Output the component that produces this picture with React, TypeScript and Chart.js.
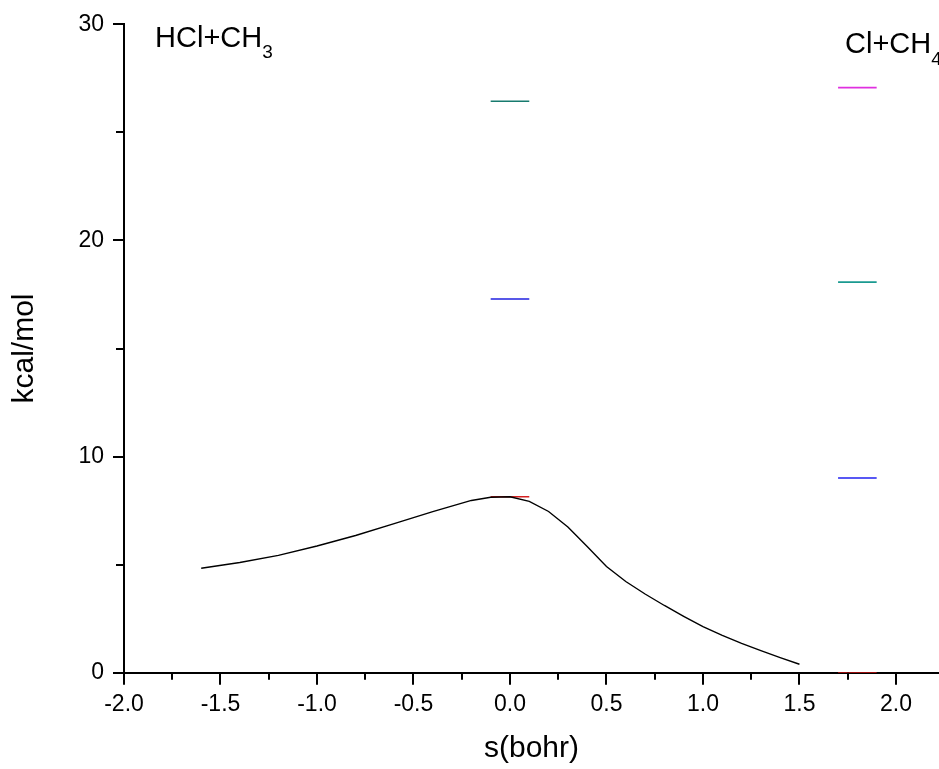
import React, { useEffect, useRef } from "react";
import { Chart, registerables } from "chart.js";

Chart.register(...registerables);

// Reaction path (minimum energy path) s (bohr) vs energy (kcal/mol)
const pathS = [-1.6, -1.4, -1.2, -1.0, -0.8, -0.6, -0.4, -0.2, -0.1, 0.0, 0.1, 0.2, 0.3, 0.4, 0.5, 0.6, 0.7, 0.8, 0.9, 1.0, 1.1, 1.2, 1.3, 1.4, 1.5];
const pathE = [4.83, 5.1, 5.43, 5.86, 6.35, 6.9, 7.45, 7.97, 8.12, 8.14, 7.93, 7.46, 6.74, 5.84, 4.91, 4.22, 3.64, 3.11, 2.61, 2.13, 1.73, 1.36, 1.02, 0.7, 0.39];

// Energy levels: [sStart, sEnd], energy, colour
const levelStart = [-0.1, -0.1, -0.1, 1.7, 1.7, 1.7, 1.7];
const levelEnd = [0.1, 0.1, 0.1, 1.9, 1.9, 1.9, 1.9];
const levelE = [26.44, 17.29, 8.14, 27.07, 18.07, 9.01, 0.0];
const levelColors = ["#177a6e", "#2020e0", "#d42020", "#e030e0", "#1a9a90", "#2020f0", "#cc1010"];

// Species labels (position in data coordinates)
const labelMain = ["HCl+CH", "Cl+CH"];
const labelSub = ["3", "4"];
const labelS = [-1.839, 1.736];
const labelE = [28.97, 28.66];

const xTicksMajor = 0.5;
const yTicksMajor = 10;

const FONT = "'Liberation Sans', Arial, Helvetica, sans-serif";

const tickPlugin = {
  id: "customTicks",
  afterDraw(chart: any) {
    const ctx = chart.ctx;
    const xs = chart.scales.x;
    const ys = chart.scales.y;
    const area = chart.chartArea;
    ctx.save();
    ctx.strokeStyle = "#000";
    ctx.lineWidth = 2;
    xs.ticks.forEach((t: any) => {
      const v = t.value;
      const major = Math.abs(v / xTicksMajor - Math.round(v / xTicksMajor)) < 1e-6;
      const px = Math.round(xs.getPixelForValue(v));
      const len = major ? 12 : 7;
      ctx.beginPath();
      ctx.moveTo(px, area.bottom);
      ctx.lineTo(px, area.bottom + len);
      ctx.stroke();
    });
    ys.ticks.forEach((t: any) => {
      const v = t.value;
      const major = Math.abs(v / yTicksMajor - Math.round(v / yTicksMajor)) < 1e-6;
      const py = Math.round(ys.getPixelForValue(v));
      const len = major ? 11 : 8;
      ctx.beginPath();
      ctx.moveTo(area.left, py);
      ctx.lineTo(area.left - len, py);
      ctx.stroke();
    });
    // species labels
    ctx.fillStyle = "#000";
    ctx.textBaseline = "alphabetic";
    ctx.textAlign = "left";
    for (let i = 0; i < labelMain.length; i++) {
      const px = xs.getPixelForValue(labelS[i]);
      const py = ys.getPixelForValue(labelE[i]);
      ctx.font = `29px ${FONT}`;
      ctx.fillText(labelMain[i], px, py);
      const w = ctx.measureText(labelMain[i]).width;
      ctx.font = `19px ${FONT}`;
      ctx.fillText(labelSub[i], px + w, py + 11.5);
    }
    ctx.restore();
  },
};

export default function App() {
  const ref = useRef<HTMLCanvasElement | null>(null);
  useEffect(() => {
    if (!ref.current) return;
    const datasets: any[] = [
      {
        label: "path",
        data: pathS.map((s, i) => ({ x: s, y: pathE[i] })),
        borderColor: "#000",
        borderWidth: 1.4,
        pointRadius: 0,
        tension: 0,
        fill: false,
      },
    ];
    levelE.forEach((e, i) => {
      datasets.push({
        label: "level" + i,
        data: [
          { x: levelStart[i], y: e },
          { x: levelEnd[i], y: e },
        ],
        borderColor: levelColors[i],
        borderWidth: 1.6,
        pointRadius: 0,
        fill: false,
      });
    });
    const chart = new Chart(ref.current, {
      type: "line",
      data: { datasets },
      plugins: [tickPlugin],
      options: {
        animation: false,
        responsive: false,
        devicePixelRatio: 1,
        layout: { padding: { top: 24.3, right: 0, left: 0, bottom: 0 } },
        plugins: { legend: { display: false }, tooltip: { enabled: false } },
        scales: {
          x: {
            type: "linear",
            min: -2.0,
            max: 2.223,
            afterFit: (s: any) => {
              s.height = 96.3;
            },
            border: { display: true, color: "#000", width: 2 },
            grid: { drawOnChartArea: false, drawTicks: true, tickLength: 12, tickColor: "rgba(0,0,0,0)" },
            ticks: {
              stepSize: 0.25,
              includeBounds: false,
              autoSkip: false,
              maxRotation: 0,
              padding: 6,
              color: "#000",
              font: { family: FONT, size: 23 },
              callback: (v: any) => {
                const n = Number(v);
                return Math.abs(n / xTicksMajor - Math.round(n / xTicksMajor)) < 1e-6 ? n.toFixed(1) : "";
              },
            },
            title: {
              display: true,
              text: "s(bohr)",
              color: "#000",
              font: { family: FONT, size: 30 },
              padding: { top: 0, bottom: 2 },
            },
          },
          y: {
            type: "linear",
            min: 0,
            max: 30,
            afterFit: (s: any) => {
              s.width = 124;
            },
            border: { display: true, color: "#000", width: 2 },
            grid: { drawOnChartArea: false, drawTicks: true, tickLength: 11, tickColor: "rgba(0,0,0,0)" },
            ticks: {
              stepSize: 5,
              autoSkip: false,
              padding: 9,
              color: "#000",
              font: { family: FONT, size: 23 },
              callback: (v: any) => {
                const n = Number(v);
                return Math.abs(n / yTicksMajor - Math.round(n / yTicksMajor)) < 1e-6 ? String(n) : "";
              },
            },
            title: {
              display: true,
              text: "kcal/mol",
              color: "#000",
              font: { family: FONT, size: 30 },
              padding: { top: 7, bottom: 0 },
            },
          },
        },
      } as any,
    });
    return () => chart.destroy();
  }, []);
  return (
    <div style={{ position: "fixed", left: 0, top: 0, width: 939, height: 769, background: "#fff" }}>
      <canvas ref={ref} width={939} height={769} style={{ display: "block" }} />
    </div>
  );
}
